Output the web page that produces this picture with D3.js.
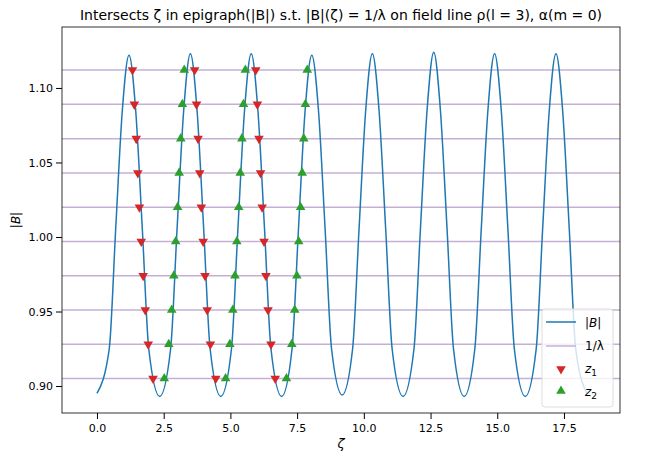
<!DOCTYPE html><html><head><meta charset="utf-8">
<script src="https://cdn.jsdelivr.net/npm/d3@7"></script>
<style>body{margin:0;background:#fff}text{font-family:"DejaVu Sans",sans-serif}</style></head><body>
<svg id="c" width="661" height="470"></svg>
<script>
const curveX=[0,0.46,0.7,0.95,1.2,1.45,1.7,1.94,2.35,2.76,3.0,3.25,3.5,3.75,4.0,4.24,4.64,5.04,5.28,5.53,5.78,6.03,6.28,6.52,6.92,7.31,7.55,7.8,8.05,8.3,8.55,8.79,9.19,9.58,9.82,10.07,10.32,10.57,10.82,11.06,11.47,11.88,12.12,12.37,12.62,12.87,13.12,13.36,13.76,14.16,14.4,14.65,14.9,15.15,15.4,15.64,16.05,16.46,16.7,16.95,17.2,17.45,17.7,17.94,18.36];
const curveY=[0.895,0.925,1.005,1.085,1.122,1.085,1.005,0.925,0.893,0.925,1.005,1.085,1.123,1.085,1.005,0.925,0.893,0.925,1.005,1.085,1.123,1.085,1.005,0.925,0.893,0.925,1.005,1.085,1.122,1.085,1.005,0.925,0.894,0.925,1.005,1.085,1.123,1.085,1.005,0.925,0.893,0.925,1.005,1.085,1.124,1.085,1.005,0.925,0.893,0.925,1.005,1.085,1.123,1.085,1.005,0.925,0.893,0.925,1.005,1.085,1.123,1.085,1.005,0.925,0.895];
const levels=[1.112,1.089,1.066,1.043,1.020,0.997,0.974,0.951,0.928,0.905];
const z1x=[[1.33,1.40,1.47,1.53,1.59,1.66,1.73,1.81,1.92,2.10],[3.66,3.73,3.79,3.85,3.91,3.98,4.05,4.13,4.25,4.45],[5.95,6.01,6.07,6.13,6.19,6.26,6.33,6.41,6.52,6.68]];
const z2x=[[3.27,3.20,3.14,3.08,3.02,2.95,2.88,2.80,2.69,2.52],[5.56,5.49,5.43,5.37,5.31,5.24,5.17,5.09,4.98,4.82],[7.88,7.81,7.75,7.69,7.63,7.56,7.49,7.41,7.30,7.10]];
const xTicks=[0,2.5,5,7.5,10,12.5,15,17.5];
const yTicks=[0.90,0.95,1.00,1.05,1.10];
const L=62,R=620,T=27,B=413;
const x=d3.scaleLinear().domain([-1.311,19.6]).range([L,R]);
const y=d3.scaleLinear().domain([0.8819,1.1409]).range([B,T]);
const svg=d3.select("#c");
const g=svg.append("g");
levels.forEach(l=>g.append("line").attr("x1",L).attr("x2",R).attr("y1",y(l)).attr("y2",y(l)).attr("stroke","#c5b0d5").attr("stroke-width",1.5));
g.append("path").datum(curveX.map((d,i)=>[d,curveY[i]])).attr("d",d3.line().x(d=>x(d[0])).y(d=>y(d[1])).curve(d3.curveMonotoneX)).attr("fill","none").attr("stroke","#1f77b4").attr("stroke-width",1.5);
const tri=d3.symbol().type(d3.symbolTriangle).size(40);
z1x.forEach(arr=>arr.forEach((v,i)=>g.append("path").attr("d",tri).attr("fill","#d62728").attr("transform",`translate(${x(v)},${y(levels[i])}) rotate(180)`)));
z2x.forEach(arr=>arr.forEach((v,i)=>g.append("path").attr("d",tri).attr("fill","#2ca02c").attr("transform",`translate(${x(v)},${y(levels[i])})`)));
const xa=svg.append("g").attr("transform",`translate(0,${B})`).call(d3.axisBottom(x).tickValues(xTicks).tickFormat(d3.format(".1f")).tickSizeOuter(0));
const ya=svg.append("g").attr("transform",`translate(${L},0)`).call(d3.axisLeft(y).tickValues(yTicks).tickFormat(d3.format(".2f")).tickSizeOuter(0));
[xa,ya].forEach(a=>{a.select(".domain").remove();a.selectAll("text").attr("font-size",11).attr("fill","#000");a.selectAll("line").attr("stroke","#000");});
xa.selectAll("text").attr("dy","0.9em");
svg.append("rect").attr("x",L).attr("y",T).attr("width",R-L).attr("height",B-T).attr("fill","none").attr("stroke","#000").attr("stroke-width",0.8);
svg.append("text").attr("x",(L+R)/2).attr("y",448).attr("text-anchor","middle").attr("font-size",13).attr("font-style","italic").text("ζ");
svg.append("text").attr("transform",`translate(20,${(T+B)/2}) rotate(-90)`).attr("text-anchor","middle").attr("font-size",12).text("|B|").attr("font-style","italic");
svg.append("text").attr("x",(L+R)/2).attr("y",20).attr("text-anchor","middle").attr("font-size",14).text("Intersects ζ in epigraph(|B|) s.t. |B|(ζ) = 1/λ on field line ρ(l = 3), α(m = 0)");
const lg=svg.append("g").attr("transform","translate(542,309)");
lg.append("rect").attr("width",71).attr("height",98).attr("rx",3).attr("fill","#fff").attr("fill-opacity",0.8).attr("stroke","#ddd");
lg.append("line").attr("x1",4).attr("x2",34).attr("y1",13).attr("y2",13).attr("stroke","#1f77b4").attr("stroke-width",1.5);
lg.append("line").attr("x1",4).attr("x2",34).attr("y1",37).attr("y2",37).attr("stroke","#c5b0d5").attr("stroke-width",1.5);
lg.append("path").attr("d",tri).attr("fill","#d62728").attr("transform","translate(19,60) rotate(180)");
lg.append("path").attr("d",tri).attr("fill","#2ca02c").attr("transform","translate(19,82)");
const lt=[["|B|",18],["1/λ",41],["z",64],["z",87]];
lt.forEach((d,i)=>{const t=lg.append("text").attr("x",43).attr("y",d[1]).attr("font-size",12).attr("font-style",i>=2||i==0?"italic":null).text(d[0]);if(i>=2)t.append("tspan").attr("font-size",9).attr("dy",3).attr("font-style","normal").text(i==2?"1":"2");});
</script></body></html>
